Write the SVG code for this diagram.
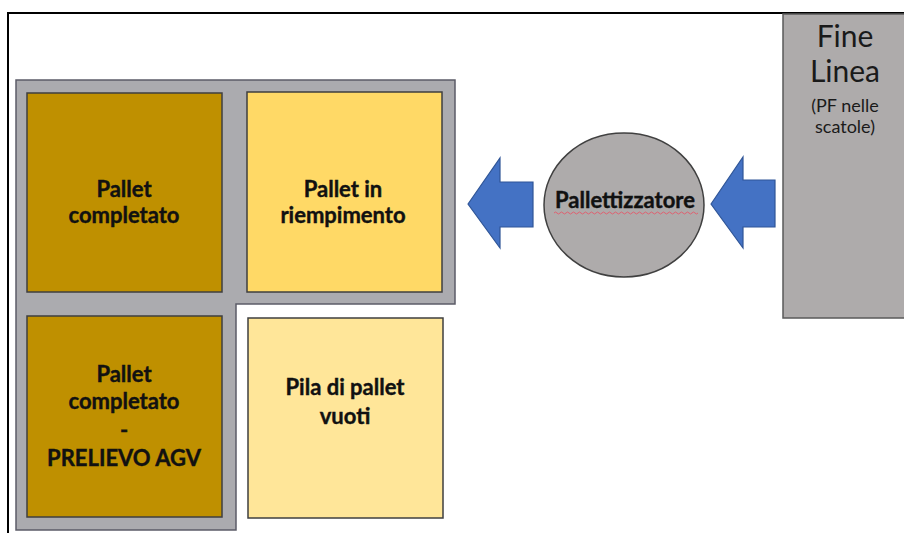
<svg xmlns="http://www.w3.org/2000/svg" width="904" height="533" viewBox="0 0 904 533">
  <defs>
    <style>
      .lbl { font-family: Lato, "Liberation Sans", sans-serif; font-weight: bold; font-size: 22px; fill: #111111; stroke: #111111; stroke-width: 0.4; text-anchor: middle; }
      .fine { font-family: Lato, "Liberation Sans", sans-serif; font-size: 30px; fill: #1a1a1a; text-anchor: middle; }
      .small { font-family: Lato, "Liberation Sans", sans-serif; font-size: 18px; fill: #1a1a1a; text-anchor: middle; }
      .box { stroke: #3f3f3f; stroke-width: 1.5; }
      .arrow { fill: #4472C4; stroke: #2F5597; stroke-width: 1.2; }
    </style>
  </defs>
  <rect x="0" y="0" width="904" height="533" fill="#ffffff"/>
  <!-- outer frame -->
  <path d="M8,533 V13 H904" fill="none" stroke="#000" stroke-width="2"/>

  <g id="fine-linea">
    <rect x="783" y="14" width="125" height="304" fill="#AEABAB" stroke="#5a5a5a" stroke-width="1.5"/>
    <text class="fine" x="845" y="47">Fine</text>
    <text class="fine" x="845" y="82">Linea</text>
    <text class="small" x="845" y="112">(PF nelle</text>
    <text class="small" x="845" y="133">scatole)</text>
  </g>

  <g id="area">
    <path d="M16,80 H455 V304 H236 V530 H16 Z" fill="#ABABAF" stroke="#5c5c68" stroke-width="1.5"/>
  </g>

  <g id="pallet-completato">
    <rect class="box" x="27" y="93" width="195" height="199" fill="#BF9000"/>
    <text class="lbl" x="124" y="197">Pallet</text>
    <text class="lbl" x="124" y="223">completato</text>
  </g>

  <g id="pallet-riempimento">
    <rect class="box" x="247" y="92" width="195" height="200" fill="#FFD966"/>
    <text class="lbl" x="343" y="197">Pallet in</text>
    <text class="lbl" x="343" y="223">riempimento</text>
  </g>

  <g id="pallet-agv">
    <rect class="box" x="27" y="316" width="195" height="201" fill="#BF9000"/>
    <text class="lbl" x="124" y="382">Pallet</text>
    <text class="lbl" x="124" y="409">completato</text>
    <text class="lbl" x="124" y="438">-</text>
    <text class="lbl" x="124" y="466">PRELIEVO AGV</text>
  </g>

  <g id="pila-pallet">
    <rect class="box" x="248" y="318" width="195" height="200" fill="#FFE699"/>
    <text class="lbl" x="345" y="395">Pila di pallet</text>
    <text class="lbl" x="345" y="424">vuoti</text>
  </g>

  <g id="pallettizzatore">
    <ellipse cx="624" cy="205" rx="80" ry="72" fill="#AEABAB" stroke="#404040" stroke-width="1.5"/>
    <text class="lbl" x="625" y="208">Pallettizzatore</text>
    <path d="M554,213 q1.5,-2 3,0 t3,0 t3,0 t3,0 t3,0 t3,0 t3,0 t3,0 t3,0 t3,0 t3,0 t3,0 t3,0 t3,0 t3,0 t3,0 t3,0 t3,0 t3,0 t3,0 t3,0 t3,0 t3,0 t3,0 t3,0 t3,0 t3,0 t3,0 t3,0 t3,0 t3,0 t3,0 t3,0 t3,0 t3,0 t3,0 t3,0 t3,0 t3,0 t3,0 t3,0 t3,0 t3,0 t3,0 t3,0 t3,0 t3,0 t3,0" fill="none" stroke="#e06070" stroke-width="1"/>
  </g>

  <g id="connectors">
    <path class="arrow" d="M468,204 L500,158 V182 H533 V227 H500 V248 Z"/>
    <path class="arrow" d="M711,204 L743,157 V180 H775 V227 H743 V248 Z"/>
  </g>
</svg>
